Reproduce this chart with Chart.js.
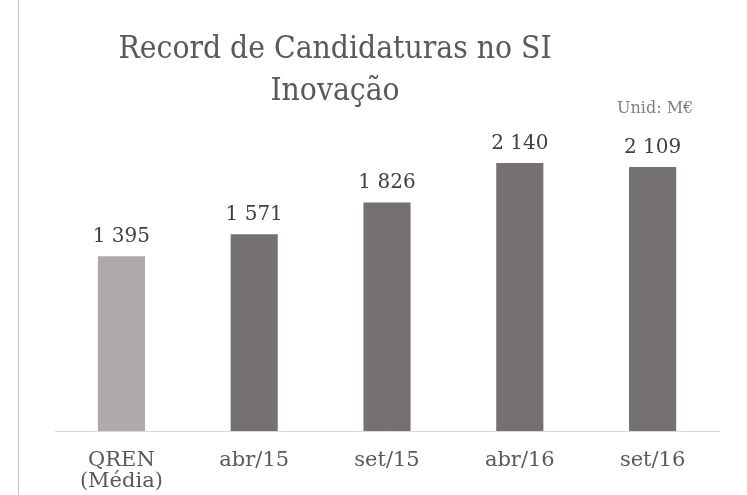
<!DOCTYPE html>
<html>
<head>
<meta charset="utf-8">
<script src="https://cdn.jsdelivr.net/npm/chart.js@4/dist/chart.umd.min.js"></script>
<style>
  html, body { margin: 0; padding: 0; background: #ffffff; }
  #wrap { position: relative; width: 747px; height: 495px; }
</style>
</head>
<body>
<div id="wrap"><canvas id="grafico"></canvas></div>
<script>
    // Dados do gráfico
    const categorias = [['QREN', '(Média)'], 'abr/15', 'set/15', 'abr/16', 'set/16'];
    const valores = [1395, 1571, 1826, 2140, 2109];
    const rotulos = ['1 395', '1 571', '1 826', '2 140', '2 109'];
    const cores = ['#aeaaaa', '#767171', '#767171', '#767171', '#767171'];
    const tituloLinhas = ['Record de Candidaturas no SI', 'Inovação'];
    const unidade = 'Unid: M€';

    const fonte = '"DejaVu Serif", "Liberation Serif", serif';
    const fonteTitulo = '"DejaVu Serif Condensed", "DejaVu Serif", serif';

    // Plugin: título, unidade, rótulos e linha vertical
    const extras = {
        id: 'extras',
        afterDraw(chart) {
            const ctx = chart.ctx;
            ctx.save();
            // linha vertical à esquerda
            ctx.strokeStyle = '#c8c8c8';
            ctx.lineWidth = 1;
            ctx.beginPath();
            ctx.moveTo(18.5, 0);
            ctx.lineTo(18.5, 495);
            ctx.stroke();

            // título
            ctx.fillStyle = '#595959';
            ctx.textAlign = 'center';
            ctx.textBaseline = 'alphabetic';
            ctx.font = '31.5px ' + fonteTitulo;
            ctx.fillText(tituloLinhas[0], 335, 58);
            ctx.fillText(tituloLinhas[1], 335, 100);

            // unidade
            ctx.fillStyle = '#808080';
            ctx.font = '16px ' + fonte;
            ctx.textAlign = 'left';
            ctx.fillText(unidade, 617, 113);

            // rótulos de dados
            const meta = chart.getDatasetMeta(0);
            ctx.fillStyle = '#404040';
            ctx.font = '20px ' + fonte;
            ctx.textAlign = 'center';
            meta.data.forEach((bar, i) => {
                ctx.fillText(rotulos[i], bar.x, bar.y - 14);
            });
            ctx.restore();
        }
    };

    new Chart(document.getElementById('grafico'), {
        type: 'bar',
        data: {
            labels: categorias,
            datasets: [{
                data: valores,
                backgroundColor: cores,
                barPercentage: 0.355,
                categoryPercentage: 1
            }]
        },
        options: {
            responsive: true,
            maintainAspectRatio: false,
            animation: false,
            layout: { padding: { left: 55, right: 28, top: 118, bottom: 0 } },
            plugins: {
                legend: { display: false },
                tooltip: { enabled: false }
            },
            scales: {
                y: {
                    display: false,
                    min: 0,
                    max: 2500
                },
                x: {
                    grid: { display: false, drawTicks: false },
                    border: { color: '#d9d9d9', width: 1 },
                    ticks: {
                        color: '#595959',
                        font: { family: fonte, size: 21, lineHeight: 1.0 },
                        padding: 19,
                        maxRotation: 0
                    },
                    afterFit(axis) {
                        axis.height = 64;
                    }
                }
            }
        },
        plugins: [extras]
    });
</script>
</body>
</html>
